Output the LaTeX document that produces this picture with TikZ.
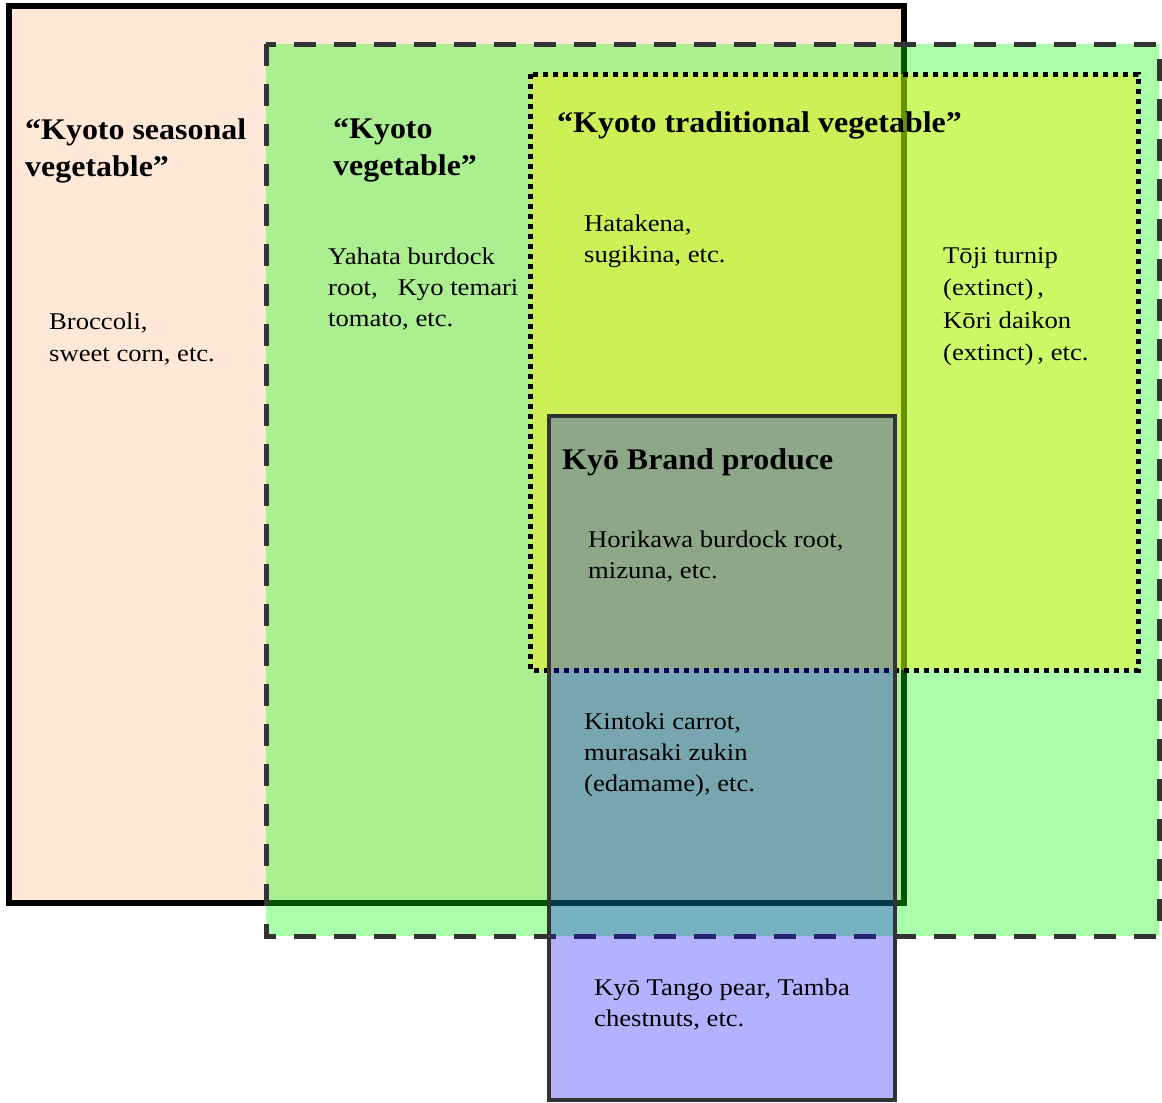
\documentclass[tikz,border=0pt]{standalone}
\usepackage{fontspec}
\setmainfont{Liberation Serif}
\newfontfamily\bodyfont{Liberation Serif}[FakeStretch=1.11]
\newfontfamily\titlefont{Liberation Serif}[FakeStretch=1.065]
\begin{document}
\begin{tikzpicture}[x=1pt,y=-1pt,
  title/.style={anchor=north west,inner sep=0pt,align=left,font=\titlefont\fontsize{30}{37}\selectfont\bfseries},
  body/.style={anchor=north west,inner sep=0pt,align=left,font=\bodyfont\fontsize{24}{31}\selectfont},
  seasonalbox/.style={line width=6pt,draw=black,fill=peach},
  vegbox/.style={line width=5pt,draw=edge,fill=green,fill opacity=0.33,dash pattern=on 22pt off 18pt},
  tradbox/.style={line width=5pt,draw=black,fill=yellow,fill opacity=0.4,dash pattern=on 5pt off 5pt},
  brandbox/.style={line width=4.5pt,draw=edge,fill=blue,fill opacity=0.3}]
\definecolor{peach}{RGB}{255,232,216}
\definecolor{edge}{RGB}{51,51,51}
\useasboundingbox (0,0) rectangle (1162,1103);
\fill[white] (0,0) rectangle (1162,1103);
% regions
\draw[seasonalbox] (9,6) rectangle (904,903);
\draw[vegbox] (266,44) rectangle (1159,936);
\draw[tradbox] (530,74) rectangle (1138,670);
\draw[brandbox] (549,416) rectangle (895,1100);
% titles
\node[title] (tseason) at (25,118.5) {“Kyoto seasonal\\vegetable”};
\node[title] (tveg) at (333,118.5) {“Kyoto\\vegetable”};
\node[title] (ttrad) at (557,111.5) {“Kyoto traditional vegetable”};
\node[title] (tbrand) at (562,448.5) {Kyō Brand produce};
% contents
\node[body] (broccoli) at (49,312.5) {Broccoli,\\[1pt]sweet corn, etc.};
\node[body] (yahata) at (328,247.5) {Yahata burdock\\root,\hspace{20pt}Kyo temari\\tomato, etc.};
\node[body] (hatakena) at (584,214.5) {Hatakena,\\sugikina, etc.};
\node[body,font=\bodyfont\fontsize{24}{32.3}\selectfont] (toji) at (943,247.5) {Tōji turnip\\(extinct)\,,\\Kōri daikon\\(extinct)\,, etc.};
\node[body] (horikawa) at (588,530.5) {Horikawa burdock root,\\mizuna, etc.};
\node[body] (kintoki) at (584,712.5) {Kintoki carrot,\\murasaki zukin\\(edamame), etc.};
\node[body] (tango) at (594,978.5) {Kyō Tango pear, Tamba\\chestnuts, etc.};
\end{tikzpicture}
\end{document}
